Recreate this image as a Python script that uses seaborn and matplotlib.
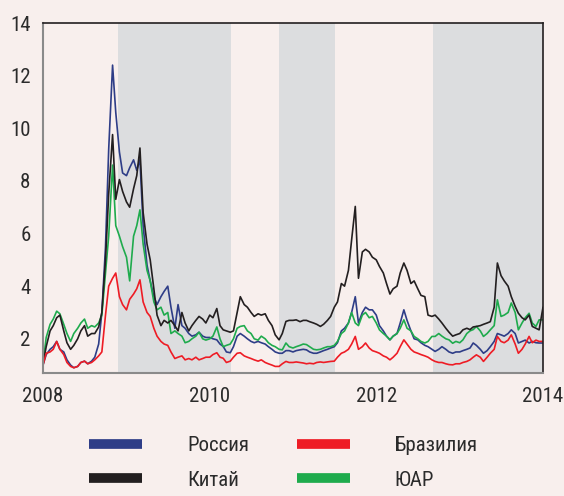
import numpy as np
import pandas as pd
import matplotlib
matplotlib.use('Agg')
import matplotlib.pyplot as plt
import matplotlib.font_manager as fm
from matplotlib.lines import Line2D
import seaborn as sns

# semi-monthly observations, 2008-01-01 ... 2014-01-01
dates = pd.date_range('2008-01-01', '2014-01-01', freq='SMS')

russia = [1.0, 1.4, 1.6, 1.7, 1.9, 1.6, 1.5, 1.2, 1.0, 0.9, 0.95, 1.1, 1.15, 1.05, 1.15, 1.3, 1.8, 3.0, 5.5, 9.2, 12.4, 10.6, 9.1, 8.3,
          8.2, 8.5, 8.8, 8.4, 8.8, 6.3, 4.8, 4.2, 3.6, 3.3, 3.6, 3.8, 4.0, 3.2, 2.4, 3.3, 2.5, 2.4, 2.2, 2.1, 2.15, 2.25, 2.1, 2.05,
          2.05, 2.0, 1.96, 1.8, 1.71, 1.5, 1.47, 1.7, 2.1, 2.2, 2.1, 2.0, 1.9, 1.85, 1.9, 1.85, 1.8, 1.7, 1.6, 1.5, 1.45, 1.45, 1.55, 1.55,
          1.5, 1.55, 1.58, 1.6, 1.58, 1.5, 1.45, 1.45, 1.5, 1.55, 1.6, 1.65, 1.7, 1.85, 2.3, 2.4, 2.6, 3.0, 3.6, 2.6, 3.0, 3.2, 3.1, 3.1,
          2.9, 2.5, 2.3, 2.1, 1.96, 2.1, 2.2, 2.6, 3.1, 2.7, 2.3, 2.0, 1.96, 1.85, 1.75, 1.7, 1.6, 1.52, 1.6, 1.7, 1.6, 1.5, 1.45, 1.5,
          1.5, 1.55, 1.6, 1.65, 1.84, 1.75, 1.6, 1.45, 1.55, 1.7, 1.9, 2.2, 2.15, 2.1, 2.2, 2.34, 2.2, 1.84, 1.9, 1.95, 1.84, 1.9, 1.85, 1.84,
          1.84]

china = [1.05, 1.7, 2.3, 2.5, 2.8, 2.9, 2.3, 1.85, 1.6, 1.75, 2.0, 2.3, 2.5, 2.1, 2.2, 2.2, 2.45, 3.0, 5.0, 7.5, 9.76, 7.3, 8.05, 7.6,
         7.2, 7.0, 7.7, 8.2, 9.25, 6.8, 5.6, 5.0, 3.9, 2.9, 2.5, 2.7, 2.6, 2.7, 2.5, 2.3, 3.0, 2.6, 2.3, 2.5, 2.7, 2.85, 2.75, 2.6,
         2.9, 2.8, 3.15, 2.5, 2.34, 2.3, 2.25, 2.3, 3.0, 3.6, 3.3, 3.2, 3.0, 2.85, 2.95, 2.9, 2.95, 2.7, 2.5, 2.15, 1.96, 2.2, 2.66, 2.7,
         2.7, 2.72, 2.65, 2.7, 2.7, 2.65, 2.6, 2.55, 2.47, 2.55, 2.7, 2.85, 3.2, 3.4, 4.1, 4.0, 4.6, 5.76, 7.03, 4.3, 5.3, 5.4, 5.3, 5.1,
         5.0, 4.75, 4.5, 4.1, 3.7, 3.9, 4.0, 4.5, 4.88, 4.6, 4.1, 4.2, 3.9, 3.65, 3.6, 2.9, 2.85, 2.9, 2.75, 2.6, 2.4, 2.25, 2.1, 2.15,
         2.2, 2.34, 2.4, 2.35, 2.45, 2.47, 2.5, 2.55, 2.6, 2.65, 3.2, 4.88, 4.4, 4.2, 4.0, 3.6, 3.23, 2.97, 2.8, 2.72, 2.9, 2.47, 2.4, 2.34,
         3.2]

brazil = [1.0, 1.45, 1.5, 1.6, 1.9, 1.6, 1.4, 1.1, 0.95, 0.9, 0.95, 1.1, 1.15, 1.05, 1.1, 1.2, 1.35, 1.5, 2.9, 4.0, 4.3, 4.5, 3.6, 3.3,
          3.1, 3.5, 3.7, 3.9, 4.24, 3.4, 3.0, 2.85, 2.4, 2.1, 1.9, 1.8, 1.75, 1.5, 1.25, 1.3, 1.35, 1.2, 1.25, 1.2, 1.3, 1.2, 1.25, 1.3,
          1.3, 1.4, 1.47, 1.3, 1.26, 1.1, 1.15, 1.3, 1.45, 1.47, 1.35, 1.3, 1.25, 1.2, 1.15, 1.2, 1.1, 1.05, 1.0, 0.95, 0.95, 1.05, 1.14, 1.1,
          1.1, 1.12, 1.1, 1.08, 1.05, 1.07, 1.05, 1.1, 1.12, 1.1, 1.12, 1.14, 1.15, 1.3, 1.45, 1.5, 1.6, 1.8, 2.09, 1.6, 1.7, 1.84, 1.65, 1.55,
          1.5, 1.45, 1.35, 1.3, 1.2, 1.3, 1.45, 1.7, 1.96, 1.8, 1.6, 1.5, 1.45, 1.4, 1.35, 1.3, 1.2, 1.14, 1.1, 1.1, 1.05, 1.02, 1.01, 1.05,
          1.05, 1.1, 1.14, 1.2, 1.3, 1.39, 1.3, 1.14, 1.3, 1.45, 1.6, 2.09, 1.9, 1.85, 1.95, 2.15, 1.8, 1.45, 1.6, 1.8, 2.09, 1.85, 1.95, 1.9,
          1.9]

sar = [1.05, 2.05, 2.55, 2.75, 3.05, 2.95, 2.55, 2.2, 1.9, 2.2, 2.4, 2.6, 2.75, 2.4, 2.5, 2.45, 2.6, 2.9, 4.5, 5.9, 8.6, 6.3, 5.9, 5.5,
       5.1, 4.2, 5.9, 6.3, 6.9, 5.6, 4.6, 4.2, 3.4, 3.1, 3.2, 2.9, 3.0, 2.2, 2.3, 2.2, 2.1, 1.85, 1.9, 2.0, 2.1, 2.25, 2.0, 1.95,
       2.0, 2.1, 2.45, 2.0, 1.7, 1.75, 1.8, 2.0, 2.4, 2.47, 2.5, 2.3, 2.2, 2.0, 1.95, 2.1, 2.0, 1.85, 1.75, 1.7, 1.6, 1.58, 1.84, 1.7,
       1.65, 1.7, 1.75, 1.8, 1.78, 1.7, 1.6, 1.58, 1.6, 1.65, 1.7, 1.7, 1.75, 1.9, 2.2, 2.3, 2.6, 3.0, 2.6, 2.5, 2.9, 3.0, 2.8, 2.85,
       2.6, 2.34, 2.2, 2.1, 1.96, 2.1, 2.2, 2.4, 2.72, 2.4, 2.3, 2.09, 2.0, 1.9, 1.84, 1.9, 2.09, 2.09, 2.2, 2.1, 2.0, 1.96, 1.83, 1.9,
       1.85, 1.96, 2.2, 2.3, 2.35, 2.47, 2.3, 2.09, 2.2, 2.34, 2.5, 3.48, 2.85, 2.9, 3.0, 3.36, 3.0, 2.34, 2.6, 2.8, 2.97, 2.6, 2.47, 2.72,
       2.72]

countries = ['Россия', 'Китай', 'Бразилия', 'ЮАР']
palette = {'Россия': '#2e3d87', 'Китай': '#231f20', 'Бразилия': '#ee1c25', 'ЮАР': '#1fab4d'}
draw_order = ['Россия', 'ЮАР', 'Китай', 'Бразилия']

# grey bands
bands = [('2008-11-24', '2010-04-04'), ('2010-10-31', '2011-07-02'), ('2012-09-06', '2014-01-01')]

df = pd.concat([pd.DataFrame({'date': dates, 'value': v, 'country': c})
                for c, v in zip(countries, [russia, china, brazil, sar])])

bg = '#f8efed'
sns.set_style('white', {'axes.facecolor': bg, 'figure.facecolor': bg})

# narrow font if there is one
names = {f.name for f in fm.fontManager.ttflist}
fam = 'DejaVu Sans'
for n in ['Liberation Sans Narrow', 'Roboto Condensed', 'Open Sans Condensed', 'DejaVu Sans Condensed']:
    if n in names:
        fam = n
        break
plt.rcParams['font.family'] = [fam, 'DejaVu Sans']
if fam == 'DejaVu Sans':
    plt.rcParams['font.stretch'] = 'condensed'

fig = plt.figure(figsize=(5.64, 4.96), dpi=100)
fig.patch.set_facecolor(bg)
ax = fig.add_axes([43/564, 1-373/496, 500/564, 350/496])
ax.set_facecolor(bg)

for a, b in bands:
    ax.axvspan(pd.Timestamp(a), pd.Timestamp(b), color='#dcdddf', lw=0, zorder=0)

sns.lineplot(data=df, x='date', y='value', hue='country', hue_order=draw_order,
             palette=palette, lw=1.2, legend=False, ax=ax)

ax.set_xlim(pd.Timestamp('2008-01-01'), pd.Timestamp('2014-01-01'))
ax.set_ylim(0.7, 14)
ax.set_yticks([2, 4, 6, 8, 10, 12, 14])
xt = [pd.Timestamp(f'{y}-01-01') for y in [2008, 2010, 2012, 2014]]
ax.set_xticks(xt)
ax.set_xticklabels(['2008', '2010', '2012', '2014'])
ax.set_xlabel('')
ax.set_ylabel('')
ax.tick_params(axis='both', labelsize=15, labelcolor='#2b2b2b', color='#8a8a8a',
               length=4, width=1.2, direction='out')
ax.tick_params(axis='x', pad=6)
ax.tick_params(axis='y', pad=5)

for s in ['left', 'bottom']:
    ax.spines[s].set_color('#8a8a8a')
    ax.spines[s].set_linewidth(1.5)
for s in ['top', 'right']:
    ax.spines[s].set_visible(True)
    ax.spines[s].set_color('#231f20')
    ax.spines[s].set_linewidth(1.2)
ax.grid(False)

handles = [Line2D([], [], color=palette[c], lw=7, solid_capstyle='butt') for c in countries]
fig.legend(handles, countries, ncol=2, loc='upper left', bbox_to_anchor=(89/564, 1-436/496),
           frameon=False, fontsize=15, handlelength=2.55, handletextpad=2.15,
           columnspacing=2.3, labelspacing=0.75, borderpad=0, borderaxespad=0,
           labelcolor='#2b2b2b')

fig.savefig('out.png', dpi=100, facecolor=bg)
